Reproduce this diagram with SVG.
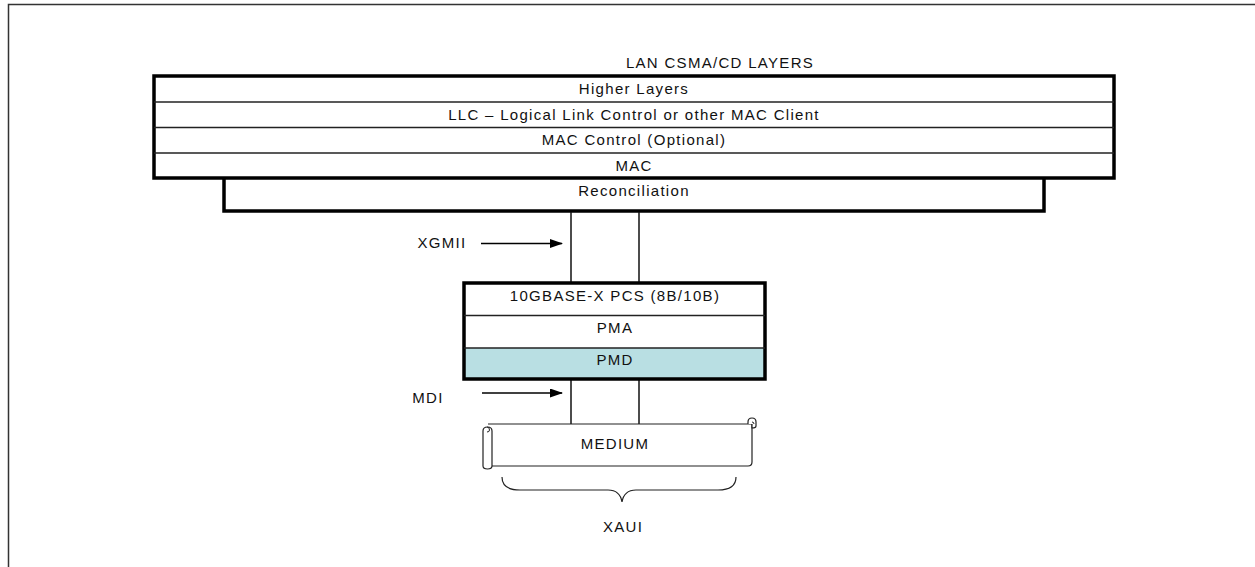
<svg xmlns="http://www.w3.org/2000/svg" width="1255" height="567" viewBox="0 0 1255 567">
<style>
text{font-family:"Liberation Sans",Arial,sans-serif;font-size:15px;letter-spacing:1.3px;fill:#111;text-anchor:middle}
.thick{fill:none;stroke:#000;stroke-width:3.5}
.thin{fill:none;stroke:#222;stroke-width:1.5}
.ln{stroke:#111;stroke-width:1.5;fill:none}
</style>
<defs>
<marker id="ah" markerWidth="13" markerHeight="9" refX="12" refY="4.5" orient="auto" markerUnits="userSpaceOnUse">
<path d="M0,0 L13,4.5 L0,9 Z" fill="#000"/>
</marker>
</defs>
<rect width="1255" height="567" fill="#fff"/>
<g id="frame"><path d="M8.5,567 V4.5 H1255" fill="none" stroke="#333" stroke-width="1.5"/></g>
<text x="720" y="68">LAN CSMA/CD LAYERS</text>
<g id="recon">
<path d="M224,178 V211 H1044 V178" class="thick"/>
<text x="634" y="196">Reconciliation</text>
</g>
<g id="lan">
<rect x="154" y="76" width="960" height="102" fill="#fff" class="thick"/>
<line x1="154" y1="102" x2="1114" y2="102" class="thin"/>
<line x1="154" y1="127.5" x2="1114" y2="127.5" class="thin"/>
<line x1="154" y1="153" x2="1114" y2="153" class="thin"/>
<text x="634" y="94">Higher Layers</text>
<text x="634" y="120">LLC – Logical Link Control or other MAC Client</text>
<text x="634" y="145">MAC Control (Optional)</text>
<text x="634" y="171">MAC</text>
</g>
<g id="connectors">
<line x1="571" y1="212" x2="571" y2="283" class="ln"/>
<line x1="639" y1="212" x2="639" y2="283" class="ln"/>
<line x1="571" y1="379" x2="571" y2="424" class="ln"/>
<line x1="639" y1="379" x2="639" y2="424" class="ln"/>
<line x1="481" y1="243.5" x2="562" y2="243.5" stroke="#000" stroke-width="1.5" marker-end="url(#ah)"/>
<line x1="482" y1="393" x2="562" y2="393" stroke="#000" stroke-width="1.5" marker-end="url(#ah)"/>
</g>
<text x="442" y="248">XGMII</text>
<text x="428" y="403">MDI</text>
<g id="phy">
<rect x="464" y="348" width="301" height="31" fill="#b9dfe3"/>
<rect x="464" y="283" width="301" height="96" class="thick"/>
<line x1="464" y1="315.5" x2="765" y2="315.5" class="thin"/>
<line x1="464" y1="348" x2="765" y2="348" class="thin"/>
<text x="615" y="301">10GBASE-X PCS (8B/10B)</text>
<text x="615" y="333">PMA</text>
<text x="615" y="365">PMD</text>
</g>
<g id="medium">
<path d="M488,424 H752 V462 Q752,466 748,466 H489" fill="#fff" stroke="#222" stroke-width="1.2"/>
<path d="M748,424 V422 Q748,418 752,418 Q756,418 756,422 V426 Q756,428 752,428 V424" fill="#fff" stroke="#222" stroke-width="1.2"/>
<path d="M752,422 Q754,422 754,424" fill="none" stroke="#222" stroke-width="1"/>
<path d="M483,431 Q483,427 487.5,427 Q492,427 492,431 V466 Q492,469 487.5,469 Q483,469 483,466 Z" fill="#fff" stroke="#222" stroke-width="1.2"/>
<path d="M487,427 Q489.5,427 489.5,430 Q489.5,432 487,432" fill="none" stroke="#222" stroke-width="1"/>
<text x="615" y="449">MEDIUM</text>
</g>
<g id="brace">
<path d="M502,477 Q502,490 520,490 H608 Q620,490 622,502 Q624,490 636,490 H718 Q736,490 736,477" fill="none" stroke="#222" stroke-width="1.2"/>
<text x="623" y="532">XAUI</text>
</g>
</svg>
